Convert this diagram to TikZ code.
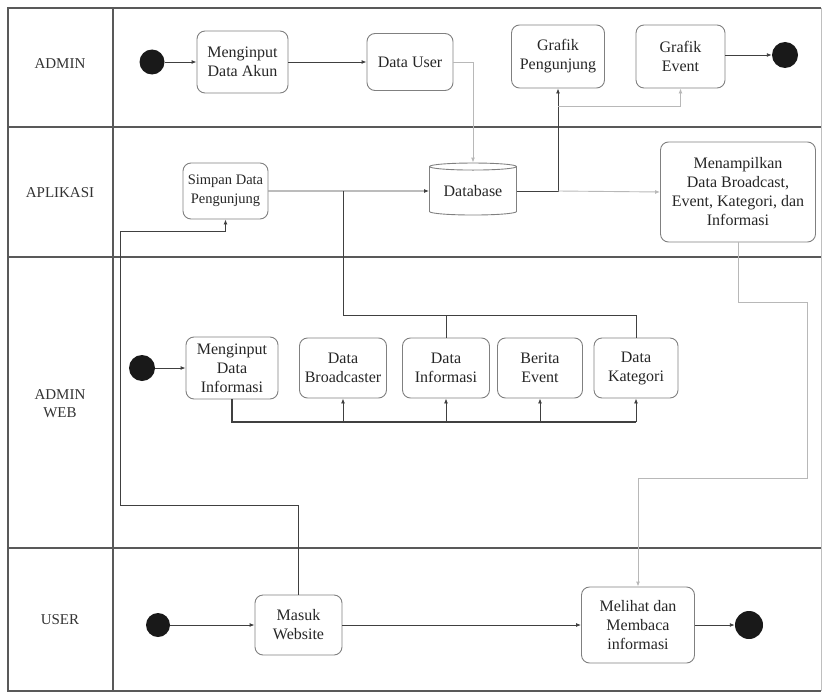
\documentclass[tikz,border=0pt]{standalone}
\usepackage{fontspec}
\setmainfont{Liberation Serif}
\usetikzlibrary{shapes.geometric,arrows.meta}

\begin{document}
\begin{tikzpicture}[x=1pt,y=-1pt,
  lane/.style={draw=black!65, line width=1.3pt},
  act/.style={draw=black!50, rounded corners=8pt, line width=0.9pt, align=center,
    font=\fontsize{16}{19}\selectfont, text=black!85, inner sep=0pt},
  lab/.style={align=center, font=\fontsize{15}{18}\selectfont, text=black!80},
  dot/.style={circle, fill=black!90, draw=none, inner sep=0pt, minimum size=25pt},
  wire/.style={draw=black!75, line width=0.9pt},
  conn/.style={wire, -{Latex[length=5pt,width=4pt]}},
  faint/.style={draw=black!28, line width=0.9pt, -{Latex[length=5pt,width=4pt]}},
  bus/.style={draw=black!75, line width=1.4pt}
]
\useasboundingbox (0,0) rectangle (824,693);

% swimlane frame
\draw[lane] (821,8) -- (8,8) -- (8,691) -- (821,691);
\draw[draw=black!25, line width=1pt] (821,8) -- (821,691);
\draw[lane] (113,8) -- (113,691);
\draw[lane] (8,127) -- (821,127);
\draw[lane] (8,257) -- (821,257);
\draw[lane] (8,548) -- (821,548);

% lane titles
\node[lab] (l1) at (60,64) {ADMIN};
\node[lab] (l2) at (60,193) {APLIKASI};
\node[lab] (l3) at (60,404) {ADMIN\\WEB};
\node[lab] (l4) at (60,620) {USER};

% ADMIN lane
\node[dot] (s1) at (152,62) {};
\node[act, minimum width=91, minimum height=62] (n1) at (242.5,62) {Menginput\\Data Akun};
\node[act, minimum width=86, minimum height=57] (n2) at (410,62) {Data User};
\node[act, minimum width=93, minimum height=63] (n3) at (558,56.5) {Grafik\\Pengunjung};
\node[act, minimum width=89, minimum height=63] (n4) at (680.5,56.5) {Grafik\\Event};
\node[dot, minimum size=26pt] (e1) at (785,55) {};

% APLIKASI lane
\node[act, minimum width=85, minimum height=56, font=\fontsize{14.5}{19}\selectfont] (n5) at (225.5,191) {Simpan Data\\Pengunjung};
\node[cylinder, shape border rotate=90, aspect=0.12, draw=black!50, line width=0.9pt,
  minimum width=87, minimum height=52, inner sep=0pt,
  font=\fontsize{16}{19}\selectfont, text=black!85] (db) at (473,191) {\raisebox{-6pt}{Database}};
\node[act, minimum width=155, minimum height=100] (n6) at (738,192) {Menampilkan\\Data Broadcast,\\Event, Kategori, dan\\Informasi};

% ADMIN WEB lane
\node[dot, minimum size=26pt] (s2) at (142,368) {};
\node[act, minimum width=92, minimum height=62] (n7) at (232,368) {Menginput\\Data\\Informasi};
\node[act, minimum width=87, minimum height=60] (n8) at (343,368) {Data\\Broadcaster};
\node[act, minimum width=87, minimum height=60] (n9) at (446,368) {Data\\Informasi};
\node[act, minimum width=85, minimum height=60] (n10) at (540,368) {Berita\\Event};
\node[act, minimum width=84, minimum height=60] (n11) at (636,368) {Data\\Kategori};

% USER lane
\node[dot, minimum size=24pt] (s3) at (158,625) {};
\node[act, minimum width=87, minimum height=60] (n12) at (298.5,625) {Masuk\\Website};
\node[act, minimum width=113, minimum height=76] (n13) at (638,625) {Melihat dan\\Membaca\\informasi};
\node[dot, minimum size=28pt] (e2) at (749,625) {};

% junction points of the flow lines
\coordinate (jtop) at (343,191);
\coordinate (bustop) at (343,315);
\coordinate (busbot) at (636,422);
\coordinate (jdb) at (558,191);
\coordinate (jev) at (558,106);

% admin flow
\draw[conn] (s1) -- (n1);
\draw[conn] (n1) -- (n2);
\draw[faint] (n2.east) -| (db.north);
\draw[conn] (n4.east |- e1) -- (e1);

% application flow
\draw[conn] (n5.east |- db) -- (db.west);
\draw[conn] (db.east) -| (n3.south);
\draw[faint] (jdb) -- (n6.west);
\draw[faint] (jev) -| (n4.south);
\draw[faint] (n6.south) -- ++(0,60) -| (807,478) -| (n13.north);

% admin web flow
\draw[conn] (s2) -- (n7);
\draw[wire] (jtop) -- (bustop) -- (bustop -| n11.north) -- (n11.north);
\draw[wire] (bustop -| n9.north) -- (n9.north);
\draw[bus] (n7.south) |- (busbot);
\draw[conn] (n8.south |- busbot) -- (n8.south);
\draw[conn] (n9.south |- busbot) -- (n9.south);
\draw[conn] (n10.south |- busbot) -- (n10.south);
\draw[conn] (n11.south |- busbot) -- (n11.south);

% user flow
\draw[conn] (s3) -- (n12);
\draw[conn] (n12) -- (n13);
\draw[conn] (n13) -- (e2);
\draw[conn] (n12.north) -- ++(0,-89) -| (120,231) -| (n5.south);
\end{tikzpicture}
\end{document}
